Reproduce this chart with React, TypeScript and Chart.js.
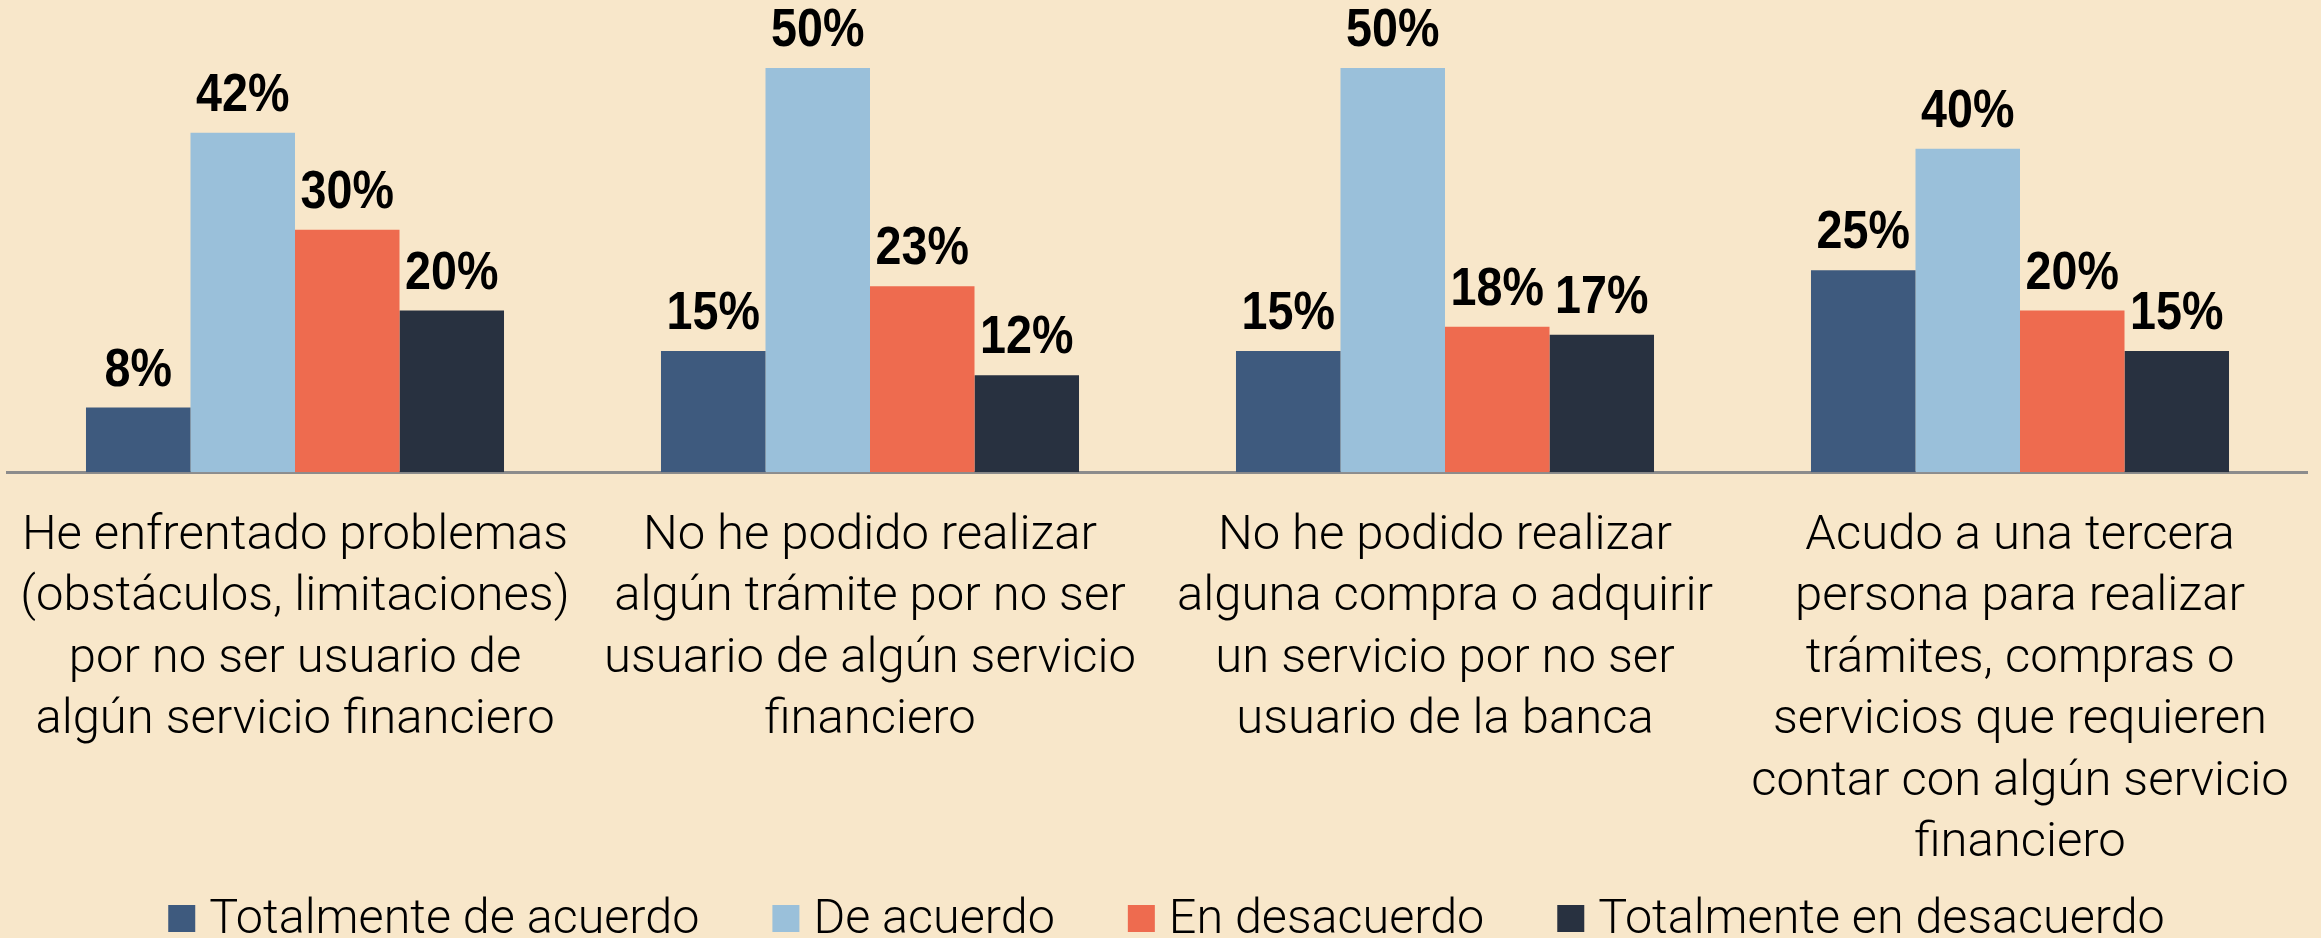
import React, { useEffect, useRef } from "react";
import { Chart, registerables } from "chart.js";

Chart.register(...registerables);

const categories: string[][] = [
  ["He enfrentado problemas", "(obstáculos, limitaciones)", "por no ser usuario de", "algún servicio financiero"],
  ["No he podido realizar", "algún trámite por no ser", "usuario de algún servicio", "financiero"],
  ["No he podido realizar", "alguna compra o adquirir", "un servicio por no ser", "usuario de la banca"],
  ["Acudo a una tercera", "persona para realizar", "trámites, compras o", "servicios que requieren", "contar con algún servicio", "financiero"],
];

const seriesNames = ["Totalmente de acuerdo", "De acuerdo", "En desacuerdo", "Totalmente en desacuerdo"];
const totalmenteDeAcuerdo = [8, 15, 15, 25];
const deAcuerdo = [42, 50, 50, 40];
const enDesacuerdo = [30, 23, 18, 20];
const totalmenteEnDesacuerdo = [20, 12, 17, 15];
const seriesColors = ["#3E5A7E", "#9AC0DA", "#EE6B4F", "#283140"];

const BG = "#F8E7CA";

const valueLabelPlugin = {
  id: "valueLabels",
  afterDatasetsDraw(chart: any) {
    const ctx = chart.ctx;
    ctx.save();
    ctx.font = "bold 53px 'Liberation Sans', Arial, sans-serif";
    ctx.fillStyle = "#000";
    ctx.textAlign = "center";
    ctx.textBaseline = "alphabetic";
    const sx = 0.88;
    chart.data.datasets.forEach((ds: any, i: number) => {
      const meta = chart.getDatasetMeta(i);
      meta.data.forEach((bar: any, j: number) => {
        ctx.save();
        ctx.translate(bar.x, bar.y - 22);
        ctx.scale(sx, 1);
        ctx.fillText(ds.data[j] + "%", 0, 0);
        ctx.restore();
      });
    });
    ctx.restore();
  },
};

const legendPlugin = {
  id: "customLegend",
  afterDraw(chart: any) {
    const ctx = chart.ctx;
    ctx.save();
    ctx.font = "300 48.5px Roboto";
    const box = 27;
    const gap = 14;
    const itemGap = 73;
    const items = chart.data.datasets.map((ds: any) => ({
      text: ds.label,
      color: ds.backgroundColor,
      w: ctx.measureText(ds.label).width,
    }));
    const total = items.reduce((s: number, it: any) => s + box + gap + it.w, 0) + itemGap * (items.length - 1);
    let x = chart.width / 2 - total / 2 + 6;
    const boxTop = 905;
    const baseline = 933;
    ctx.textBaseline = "alphabetic";
    ctx.textAlign = "left";
    items.forEach((it: any) => {
      ctx.fillStyle = it.color;
      ctx.fillRect(x, boxTop, box, box);
      ctx.fillStyle = "#000";
      ctx.fillText(it.text, x + box + gap, baseline);
      x += box + gap + it.w + itemGap;
    });
    ctx.restore();
  },
};

export default function App() {
  const ref = useRef<HTMLCanvasElement | null>(null);

  useEffect(() => {
    document.body.style.margin = "0";
    document.body.style.background = BG;
    const canvas = ref.current;
    if (!canvas) return;
    const values = [totalmenteDeAcuerdo, deAcuerdo, enDesacuerdo, totalmenteEnDesacuerdo];
    const chart = new Chart(canvas, {
      type: "bar",
      data: {
        labels: categories,
        datasets: seriesNames.map((name, i) => ({
          label: name,
          data: values[i],
          backgroundColor: seriesColors[i],
          borderWidth: 0,
          categoryPercentage: 0.727,
          barPercentage: 1,
        })),
      },
      options: {
        responsive: false,
        maintainAspectRatio: false,
        animation: false,
        devicePixelRatio: 1,
        layout: { padding: { left: 7.5, right: 13.5, top: 68, bottom: 61.5 } },
        plugins: {
          legend: { display: false },
          tooltip: { enabled: false },
          title: { display: false },
        },
        scales: {
          x: {
            grid: { display: false, drawTicks: false },
            border: { display: true, color: "#8C8C8C", width: 3 },
            ticks: {
              color: "#000",
              font: { family: "Roboto", weight: "300", size: 49, lineHeight: 61.5 / 49 },
              padding: 33.5,
              autoSkip: false,
              maxRotation: 0,
              minRotation: 0,
            },
            afterFit(scale: any) {
              scale.paddingLeft = 0;
              scale.paddingRight = 0;
            },
          },
          y: { display: false, min: 0, max: 50 },
        },
      },
      plugins: [valueLabelPlugin, legendPlugin],
    } as any);
    return () => chart.destroy();
  }, []);

  return (
    <div style={{ width: 2321, height: 938, background: BG }}>
      <canvas ref={ref} width={2321} height={938} style={{ display: "block" }} />
    </div>
  );
}
